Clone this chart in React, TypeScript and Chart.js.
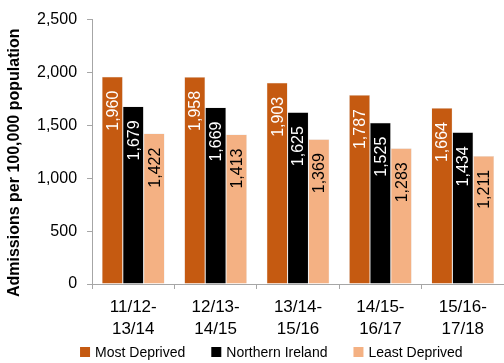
import React, { useEffect, useRef } from "react";
import { Chart, registerables } from "chart.js";

Chart.register(...registerables);

const categories: string[][] = [
  ["11/12-", "13/14"],
  ["12/13-", "14/15"],
  ["13/14-", "15/16"],
  ["14/15-", "16/17"],
  ["15/16-", "17/18"],
];
const mostDeprived = [1960, 1958, 1903, 1787, 1664];
const northernIreland = [1679, 1669, 1625, 1525, 1434];
const leastDeprived = [1422, 1413, 1369, 1283, 1211];
const yTicks = [0, 500, 1000, 1500, 2000, 2500];
const yTitle = "Admissions per 100,000 population";

const FONT = "'Liberation Sans', 'DejaVu Sans', sans-serif";

const labelPlugin = {
  id: "rotLabels",
  afterDatasetsDraw(chart: any) {
    const ctx = chart.ctx;
    chart.data.datasets.forEach((ds: any, i: number) => {
      const meta = chart.getDatasetMeta(i);
      meta.data.forEach((el: any, j: number) => {
        const v = ds.data[j] as number;
        ctx.save();
        ctx.translate(el.x, el.y + 14);
        ctx.rotate(-Math.PI / 2);
        ctx.font = `16px ${FONT}`;
        ctx.fillStyle = ds.labelColor;
        ctx.textAlign = "right";
        ctx.textBaseline = "middle";
        ctx.fillText(v.toLocaleString("en-US"), 0, 1);
        ctx.restore();
      });
    });
  },
};

const legendPlugin = {
  id: "customLegend",
  afterDraw(chart: any) {
    const ctx = chart.ctx;
    ctx.save();
    ctx.font = `14px ${FONT}`;
    ctx.textBaseline = "middle";
    ctx.textAlign = "left";
    const y = chart.height - 11;
    let x = chart.chartArea.left - 12;
    chart.data.datasets.forEach((ds: any) => {
      ctx.fillStyle = ds.backgroundColor;
      ctx.fillRect(x, y - 5, 10, 10);
      x += 15;
      ctx.fillStyle = "#000";
      ctx.fillText(ds.label, x, y + 1);
      x += ctx.measureText(ds.label).width + 26;
    });
    // y axis title
    const area = chart.chartArea;
    ctx.translate(15, (area.top + area.bottom) / 2 + 11);
    ctx.rotate(-Math.PI / 2);
    ctx.font = `bold 16px ${FONT}`;
    ctx.textAlign = "center";
    ctx.textBaseline = "middle";
    ctx.fillText(yTitle, 0, 0);
    ctx.restore();
  },
};

export default function App() {
  const ref = useRef<HTMLCanvasElement>(null);
  useEffect(() => {
    document.body.style.margin = "0";
    const chart = new Chart(ref.current!, {
      type: "bar",
      data: {
        labels: categories,
        datasets: [
          {
            label: "Most Deprived",
            data: mostDeprived,
            backgroundColor: "#C55A11",
            borderColor: "#E0E0E0",
            borderWidth: 0.5,
            labelColor: "#FFFFFF",
          } as any,
          {
            label: "Northern Ireland",
            data: northernIreland,
            backgroundColor: "#000000",
            borderColor: "#D0D0D0",
            borderWidth: 0.5,
            labelColor: "#FFFFFF",
          } as any,
          {
            label: "Least Deprived",
            data: leastDeprived,
            backgroundColor: "#F4B183",
            borderColor: "#E0E0E0",
            borderWidth: 0.5,
            labelColor: "#000000",
          } as any,
        ],
      },
      options: {
        responsive: false,
        animation: false,
        datasets: { bar: { barPercentage: 1, categoryPercentage: 0.76 } },
        layout: { padding: { left: 27, right: -2, top: 15, bottom: 23 } },
        plugins: {
          legend: { display: false },
          tooltip: { enabled: false },
        },
        scales: {
          x: {
            afterFit: (axis: any) => {
              axis.height = 56;
            },
            grid: { drawOnChartArea: false, drawTicks: true, tickLength: 5, color: "#A6A6A6" },
            border: { color: "#A6A6A6" },
            ticks: { color: "#000", font: { family: FONT, size: 17, lineHeight: 1.25 }, maxRotation: 0, minRotation: 0, padding: 8 },
          },
          y: {
            min: 0,
            max: 2500,
            afterBuildTicks: (axis: any) => {
              axis.ticks = yTicks.map((v) => ({ value: v }));
            },
            grid: { drawOnChartArea: false, drawTicks: true, tickLength: 5, color: "#A6A6A6" },
            border: { color: "#A6A6A6" },
            ticks: {
              color: "#000",
              font: { family: FONT, size: 16 },
              padding: 10,
              callback: (v: any) => Number(v).toLocaleString("en-US"),
            },
          },
        },
      },
      plugins: [labelPlugin, legendPlugin],
    });
    return () => chart.destroy();
  }, []);
  return (
    <div style={{ width: 504, height: 363 }}>
      <canvas ref={ref} width={504} height={363} />
    </div>
  );
}
